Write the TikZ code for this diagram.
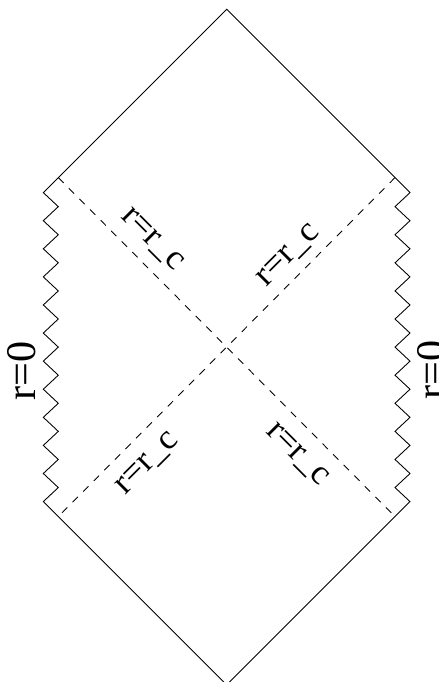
\documentclass[tikz,border=0pt]{standalone}
\usepackage{fontspec}
\setmainfont{Liberation Serif}

\begin{document}
\begin{tikzpicture}[line width=0.5pt]
\useasboundingbox (-4.533,-6.698) rectangle (4.246,6.942);
% ---- corners of the diagram ----
\coordinate (top) at (0,6.757);
\coordinate (bot) at (0,-6.757);
\coordinate (ul) at (-3.667,3.09);
\coordinate (ll) at (-3.667,-3.09);
\coordinate (ur) at (3.667,3.09);
\coordinate (lr) at (3.667,-3.09);
% ---- boundary, with the singularities as zigzags ----
\draw (top) -- (ul)
  \foreach \i in {1,...,11} {
    -- (-3.367,{3.09-(\i-0.5)*0.5618}) -- (-3.667,{3.09-\i*0.5618})
  }
  -- (bot) -- (lr)
  \foreach \i in {1,...,11} {
    -- (3.367,{-3.09+(\i-0.5)*0.5618}) -- (3.667,{-3.09+\i*0.5618})
  }
  -- cycle;
% ---- horizons ----
\coordinate (hul) at (-3.367,3.39);
\coordinate (hlr) at (3.367,-3.39);
\coordinate (hur) at (3.367,3.39);
\coordinate (hll) at (-3.367,-3.39);
\draw[dash pattern=on 0.15cm off 0.15cm] (hul) -- (hlr);
\draw[dash pattern=on 0.15cm off 0.15cm] (hur) -- (hll);
% ---- labels ----
\node[font=\fontsize{24}{28}\selectfont, rotate=90] (sl) at (-4.094,-0.478) {r=0};
\node[font=\fontsize{24}{28}\selectfont, rotate=90] (sr) at (4.11,-0.45) {r=0};
\node[font=\fontsize{20}{24}\selectfont, rotate=-45] (cul) at (-1.494,2.142) {r=r\_c};
\node[font=\fontsize{20}{24}\selectfont, rotate=45] (cur) at (1.246,1.822) {r=r\_c};
\node[font=\fontsize{20}{24}\selectfont, rotate=45] (cll) at (-1.574,-2.338) {r=r\_c};
\node[font=\fontsize{20}{24}\selectfont, rotate=-45] (clr) at (1.406,-2.158) {r=r\_c};
\end{tikzpicture}
\end{document}
